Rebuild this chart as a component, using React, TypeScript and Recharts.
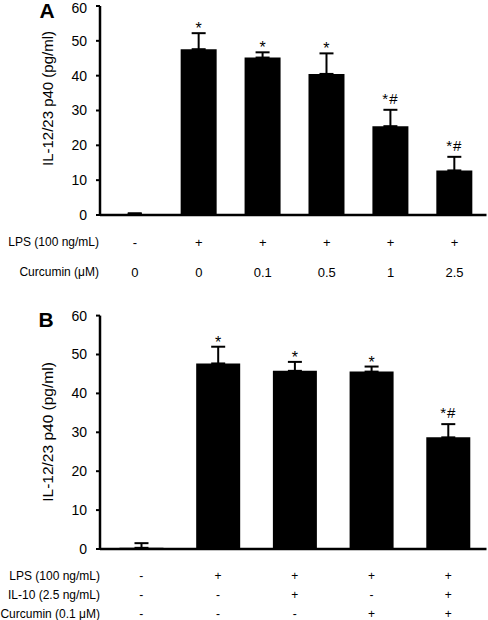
import React from "react";
import { BarChart, Bar, XAxis, YAxis, ErrorBar, LabelList } from "recharts";

const lpsA = ["-", "+", "+", "+", "+", "+"];
const curcuminA = ["0", "0", "0.1", "0.5", "1", "2.5"];
const valuesA = [0.3, 47.6, 45.2, 40.5, 25.5, 12.8];
const errA = [0.2, 4.6, 1.5, 5.9, 4.7, 3.9];
const sigA = ["", "*", "*", "*", "*#", "*#"];

const lpsB = ["-", "+", "+", "+", "+"];
const il10B = ["-", "-", "+", "-", "+"];
const curcuminB = ["-", "-", "-", "+", "+"];
const valuesB = [0.3, 47.7, 45.8, 45.6, 28.7];
const errB = [1.2, 4.3, 2.3, 1.3, 3.4];
const sigB = ["", "*", "*", "*", "*#"];

const yTicks = [0, 10, 20, 30, 40, 50, 60];

const FONT = "'Liberation Sans', Arial, Helvetica, sans-serif";

const dataA = valuesA.map((v, i) => ({ name: curcuminA[i], value: v, err: [0, errA[i]], sig: sigA[i] }));
const dataB = valuesB.map((v, i) => ({ name: String(i), value: v, err: [0, errB[i]], sig: sigB[i] }));

const makeRowTick = (rows: string[][], offsets: number[], fontSize: number) => (props: any) => {
  const { x, y, payload } = props;
  const idx = props.index ?? payload.index;
  return (
    <g>
      {rows.map((r, i) => (
        <text
          key={i}
          x={x}
          y={y + offsets[i]}
          textAnchor="middle"
          dominantBaseline="central"
          fontSize={fontSize}
          fontFamily={FONT}
          fill="#000"
        >
          {r[idx]}
        </text>
      ))}
    </g>
  );
};

const makeSig = (errs: number[], vals: number[]) => (props: any) => {
  const { x, y, width, height, value, index } = props;
  if (!value) return null;
  const pxPerUnit = height / vals[index];
  const top = y - errs[index] * pxPerUnit;
  const hasHash = String(value).includes("#");
  return (
    <text
      x={x + width / 2}
      y={hasHash ? top - 6 : top + 1}
      textAnchor="middle"
      fontSize={hasHash ? 15 : 16}
      letterSpacing={hasHash ? 1 : 0}
      fontFamily={FONT}
      fill="#000"
    >
      {value}
    </text>
  );
};

const axisLine = { stroke: "#000", strokeWidth: 2.5 };

export default function App() {
  return (
    <div style={{ position: "absolute", left: 0, top: 0, width: 488, height: 620, background: "#fff", fontFamily: FONT }}>
      <div style={{ position: "absolute", left: 0, top: 0 }}>
        <BarChart width={488} height={290} data={dataA} margin={{ top: 6, right: 1.5, left: 0, bottom: 0 }} barCategoryGap="21.5%">
          <XAxis
            dataKey="name"
            axisLine={axisLine}
            tickLine={false}
            tickSize={0}
            tickMargin={0}
            height={75}
            padding={{ left: 3, right: 0 }}
            interval={0}
            tick={makeRowTick([lpsA, curcuminA], [27, 57], 13)}
          />
          <YAxis
            width={100}
            domain={[0, 60]}
            ticks={yTicks}
            axisLine={axisLine}
            tickLine={{ stroke: "#000", strokeWidth: 2 }}
            tickSize={4}
            tickMargin={9}
            tick={{ fontSize: 14, fill: "#000", fontFamily: FONT }}
          />
          <Bar dataKey="value" fill="#000" isAnimationActive={false}>
            <ErrorBar dataKey="err" width={7} stroke="#000" strokeWidth={2} direction="y" />
            <LabelList dataKey="sig" content={makeSig(errA, valuesA)} />
          </Bar>
        </BarChart>
      </div>
      <div style={{ position: "absolute", left: 0, top: 300 }}>
        <BarChart width={488} height={320} data={dataB} margin={{ top: 15.6, right: 1.5, left: 0, bottom: 0 }} barCategoryGap="21.5%">
          <XAxis
            dataKey="name"
            axisLine={axisLine}
            tickLine={false}
            tickSize={0}
            tickMargin={0}
            height={71}
            padding={{ left: 3, right: 0 }}
            interval={0}
            tick={makeRowTick([lpsB, il10B, curcuminB], [27, 46, 65], 12)}
          />
          <YAxis
            width={100}
            domain={[0, 60]}
            ticks={yTicks}
            axisLine={axisLine}
            tickLine={{ stroke: "#000", strokeWidth: 2 }}
            tickSize={4}
            tickMargin={9}
            tick={{ fontSize: 14, fill: "#000", fontFamily: FONT }}
          />
          <Bar dataKey="value" fill="#000" isAnimationActive={false}>
            <ErrorBar dataKey="err" width={7} stroke="#000" strokeWidth={2} direction="y" />
            <LabelList dataKey="sig" content={makeSig(errB, valuesB)} />
          </Bar>
        </BarChart>
      </div>
      <svg width={488} height={620} style={{ position: "absolute", left: 0, top: 0, pointerEvents: "none" }}>
        <g fontFamily={FONT} fill="#000">
          <text x={47} y={18} textAnchor="middle" fontSize={21} fontWeight="bold">A</text>
          <text x={46} y={327} textAnchor="middle" fontSize={21} fontWeight="bold">B</text>
          <text transform="translate(47,98.5) rotate(-90)" textAnchor="middle" dominantBaseline="central" fontSize={15}>IL-12/23 p40 (pg/ml)</text>
          <text transform="translate(47,432) rotate(-90)" textAnchor="middle" dominantBaseline="central" fontSize={15.5}>IL-12/23 p40 (pg/ml)</text>
          <text x={99} y={242} textAnchor="end" dominantBaseline="central" fontSize={12}>LPS (100 ng/mL)</text>
          <text x={99} y={272} textAnchor="end" dominantBaseline="central" fontSize={12}>Curcumin (μM)</text>
          <text x={100} y={576} textAnchor="end" dominantBaseline="central" fontSize={12}>LPS (100 ng/mL)</text>
          <text x={100} y={595} textAnchor="end" dominantBaseline="central" fontSize={12}>IL-10 (2.5 ng/mL)</text>
          <text x={100} y={614} textAnchor="end" dominantBaseline="central" fontSize={12}>Curcumin (0.1 μM)</text>
        </g>
      </svg>
    </div>
  );
}
